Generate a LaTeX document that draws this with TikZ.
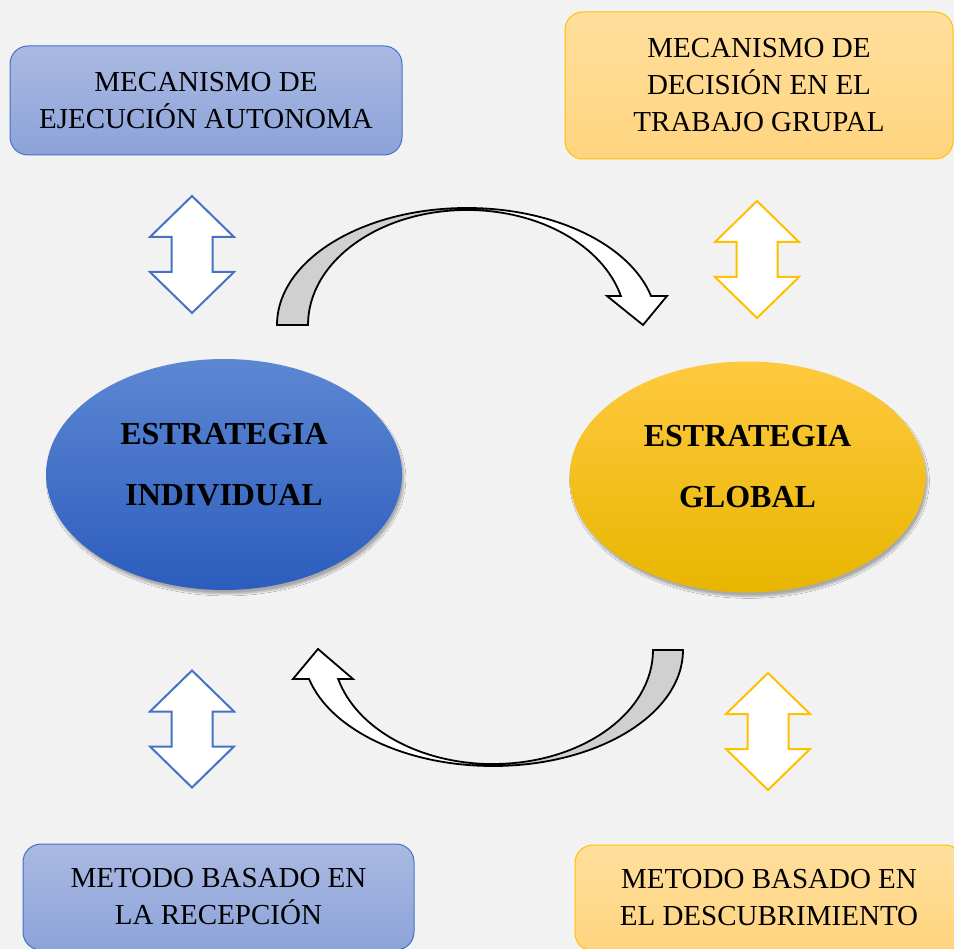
\documentclass[tikz,border=0pt]{standalone}
\usepackage{fontspec}
\setmainfont{Liberation Serif}
\usetikzlibrary{shapes.geometric,shadows.blur}

\definecolor{bgcol}{HTML}{F2F2F2}
\definecolor{blueline}{HTML}{4472C4}
\definecolor{yelline}{HTML}{FFC000}
\definecolor{greyband}{HTML}{D0D0D0}
\definecolor{bluetop}{HTML}{AAB9E2}
\definecolor{bluebot}{HTML}{8CA3D9}
\definecolor{yeltop}{HTML}{FFDF9C}
\definecolor{yelbot}{HTML}{FFD47F}
\definecolor{indivtop}{HTML}{5D87D3}
\definecolor{indivbot}{HTML}{2C5DBD}
\definecolor{globtop}{HTML}{FFC93F}
\definecolor{globmid}{HTML}{FFC600}
\definecolor{globbot}{HTML}{E8B600}

\tikzset{
  mecbox/.style={draw, line width=1pt, rounded corners=18pt, align=center,
    inner sep=0pt, font=\fontsize{29}{37}\selectfont},
  bluebox/.style={mecbox, draw=blueline, top color=bluetop, bottom color=bluebot},
  yelbox/.style={mecbox, draw=yelline, top color=yeltop, bottom color=yelbot},
  strat/.style={ellipse, inner sep=0pt, minimum width=356pt, minimum height=231pt,
    blur shadow={shadow xshift=2pt, shadow yshift=-4pt, shadow opacity=30, shadow blur steps=6}},
  strattext/.style={align=center, font=\fontsize{32}{61}\selectfont\bfseries},
  curvline/.style={draw=black, line width=1.8pt, line join=miter},
  updown/.pic={
    \draw[line width=2pt, fill=white, pic actions]
      (0,-58.5) -- (42,-17.5) -- (20.5,-17.5) -- (20.5,17.5) -- (42,17.5) -- (0,58.5)
      -- (-42,17.5) -- (-20.5,17.5) -- (-20.5,-17.5) -- (-42,-17.5) -- cycle;
  }
}

\begin{document}
\begin{tikzpicture}[x=1pt,y=-1pt]
  \fill[bgcol] (0,0) rectangle (954,949);
  \useasboundingbox (0,0) rectangle (954,949);

  \node[bluebox, minimum width=392pt, minimum height=109pt] (ejecucion) at (206,100.5) {MECANISMO DE\\EJECUCIÓN AUTONOMA};
  \node[yelbox, minimum width=388pt, minimum height=147pt] (decision) at (759,85.5) {MECANISMO DE\\DECISIÓN EN EL\\TRABAJO GRUPAL};
  \node[bluebox, minimum width=391pt, minimum height=106pt] (recepcion) at (218.5,897) {METODO BASADO EN\\LA RECEPCIÓN};
  \node[yelbox, minimum width=388pt, minimum height=106pt] (descubrimiento) at (769,898) {METODO BASADO EN\\EL DESCUBRIMIENTO};

  \foreach \x/\y/\c in {192/254.5/blueline, 757/259.5/yelline, 192/729/blueline, 768/731.5/yelline}{
    \pic[draw=\c] at (\x,\y) {updown};
  }

  \node[strat, top color=indivtop, bottom color=indivbot] (individual) at (224,474.5) {};
  \node[strattext] (individualtxt) at ([yshift=10pt]individual.center) {ESTRATEGIA\\INDIVIDUAL};
  \node[strat, top color=globtop, middle color=globmid, bottom color=globbot] (global) at (747.5,477) {};
  \node[strattext] (globaltxt) at ([yshift=10pt]global.center) {ESTRATEGIA\\GLOBAL};

  \draw[curvline, fill=greyband] (277,325) arc[start angle=180, end angle=270, x radius=190, y radius=117]
    -- (467,210) arc[start angle=270, end angle=180, x radius=159, y radius=115] -- cycle;
  \draw[curvline, fill=white] (467,208) arc[start angle=270, end angle=345.6, x radius=190, y radius=117]
    -- (667,296) -- (643,325) -- (607,296) -- (620.9,296)
    arc[start angle=345.4, end angle=270, x radius=159, y radius=115] -- cycle;

  \draw[curvline, fill=greyband] (683,650) arc[start angle=0, end angle=90, x radius=190, y radius=116]
    -- (493,764) arc[start angle=90, end angle=0, x radius=160, y radius=114] -- cycle;
  \draw[curvline, fill=white] (493,766) arc[start angle=90, end angle=165.5, x radius=190, y radius=116]
    -- (293,679) -- (318,649) -- (353,679) -- (338.2,679)
    arc[start angle=165.3, end angle=90, x radius=160, y radius=114] -- cycle;
\end{tikzpicture}
\end{document}
